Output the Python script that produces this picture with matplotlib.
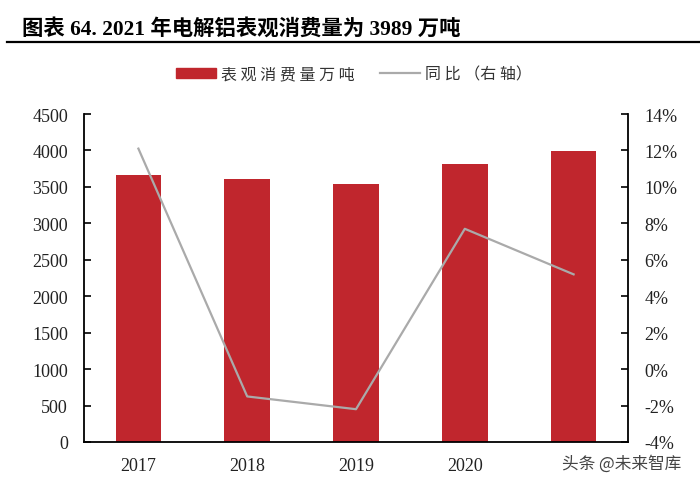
import matplotlib
matplotlib.use("Agg")
import matplotlib.pyplot as plt
from matplotlib.lines import Line2D
from matplotlib.patches import Patch

years = ["2017", "2018", "2019", "2020", "2021"]
tick_labels = ["2017", "2018", "2019", "2020", ""]
consumption = [3663, 3608, 3539, 3813, 3989]
yoy = [12.1, -1.5, -2.2, 7.7, 5.2]

RED = "#C0262D"
GRAY = "#AAAAAA"
serif = ["Liberation Serif", "Noto Sans CJK SC"]
cjk = ["Noto Sans CJK SC", "DejaVu Sans"]

fig = plt.figure(figsize=(7.0, 4.89), dpi=100)
W, H = 700, 489
ax = fig.add_axes([84 / W, 1 - 443 / H, (628 - 84) / W, (443 - 115) / H])
x = list(range(len(years)))
ax.bar(x, consumption, width=0.42, color=RED, zorder=2)
ax.set_xlim(-0.5, len(years) - 0.5)
ax.set_ylim(0, 4500)
ax.set_yticks(range(0, 4501, 500))
ax.set_xticks(x)
ax.set_xticklabels(tick_labels)
ax.spines["top"].set_visible(False)
ax.spines["right"].set_visible(False)
ax.tick_params(axis="y", direction="in", length=5, width=1.2, labelsize=13, pad=11.5,
               labelcolor="#222222")
ax.tick_params(axis="x", length=0, labelsize=13, pad=11, labelcolor="#222222")
for sp in ["left", "bottom"]:
    ax.spines[sp].set_linewidth(1.3)
for lab in ax.get_xticklabels() + ax.get_yticklabels():
    lab.set_fontfamily(serif)

ax2 = ax.twinx()
ax2.plot(x, yoy, color=GRAY, lw=1.6, zorder=3)
ax2.set_ylim(-4, 14)
ax2.set_yticks(range(-4, 15, 2))
ax2.set_yticklabels([f"{v}%" for v in range(-4, 15, 2)])
ax2.spines["top"].set_visible(False)
ax2.spines["left"].set_visible(False)
ax2.spines["bottom"].set_visible(False)
ax2.spines["right"].set_linewidth(1.3)
ax2.tick_params(axis="y", direction="in", length=5, width=1.2, labelsize=13, pad=12,
                labelcolor="#222222")
for lab in ax2.get_yticklabels():
    lab.set_fontfamily(serif)

# title
fig.text(22 / W, 1 - 29 / H, "图表 64. 2021 年电解铝表观消费量为 3989 万吨", fontsize=15.4,
         fontweight="bold", family=serif, va="center", ha="left")
fig.add_artist(Line2D([7 / W, 1.0], [1 - 43 / H, 1 - 43 / H], color="black", lw=1.6))

handles = [Patch(facecolor=RED, edgecolor=RED), Line2D([0], [0], color=GRAY, lw=1.6)]
leg = fig.legend(handles, ["表 观 消 费 量 万 吨", "同 比 （右 轴）"], loc="center",
                 bbox_to_anchor=(354 / W, 1 - 75 / H), ncol=2, frameon=False,
                 prop={"family": cjk, "size": 11.5}, handlelength=2.5, handleheight=0.55,
                 columnspacing=1.6, handletextpad=0.3)
for t in leg.get_texts():
    t.set_color("#333333")

fig.text(622 / W, 1 - 464 / H, "头条 @未来智库", fontsize=12, family=cjk, color="#444444",
         ha="center", va="center")

fig.savefig("out.png", dpi=100)
